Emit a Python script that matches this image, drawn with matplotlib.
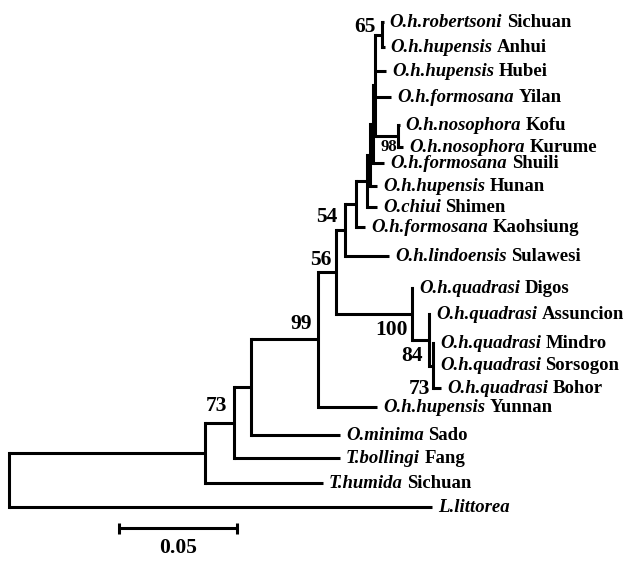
import matplotlib
matplotlib.use("Agg")
import matplotlib.pyplot as plt
from matplotlib.collections import LineCollection

# ---- data ----
taxa = ["O.h.robertsoni", "O.h.hupensis", "O.h.hupensis", "O.h.formosana",
        "O.h.nosophora", "O.h.nosophora", "O.h.formosana", "O.h.hupensis",
        "O.chiui", "O.h.formosana", "O.h.lindoensis", "O.h.quadrasi",
        "O.h.quadrasi", "O.h.quadrasi", "O.h.quadrasi", "O.h.quadrasi",
        "O.h.hupensis", "O.minima", "T.bollingi", "T.humida", "L.littorea"]
places = ["Sichuan", "Anhui", "Hubei", "Yilan", "Kofu", "Kurume", "Shuili",
          "Hunan", "Shimen", "Kaohsiung", "Sulawesi", "Digos", "Assuncion",
          "Mindro", "Sorsogon", "Bohor", "Yunnan", "Sado", "Fang", "Sichuan", ""]

# tips are referenced by their index in taxa, internal labels are bootstrap values
tree = ("(((((((((((((0:0.0006,1:0.0010)65:0.0030,2:0.0047,3:0.0068,"
        "(4:0.0006,5:0.0021)98:0.0098):0.0008,6:0.0047):0.0013,7:0.0030):0.0013,"
        "8:0.0042):0.0047,9:0.0038):0.0047,10:0.0187)54:0.0038,"
        "(11:0.0004,(12:0.0004,(13:0.0004,14:0.0004,15:0.0034)73:0.0017)84:0.0072)100:0.0322)56:0.0076,"
        "16:0.0250)99:0.0284,17:0.0377):0.0072,18:0.0449)73:0.0125,19:0.0502):0.0829,"
        "20:0.1793);")
scale_len = 0.05

# ---- layout ----
tip_rows = [22, 47, 71, 97, 125, 147, 163, 186, 207, 227, 256, 288, 314,
            343, 365, 388, 407, 435, 458, 483, 507]
px = 0.05 / 118.0        # tree units per pixel
root_px = 9
# bootstrap label placement: (dx, dy) in pixels from node, keyed by clade span
boot_off = {(0, 1): (-7, -8), (4, 5): (-1, 11), (0, 10): (-8, -13),
            (0, 15): (-5, -12), (0, 16): (-6, -15), (0, 18): (-7, -17),
            (11, 15): (-4, 16), (12, 15): (-6, 16), (13, 15): (-3, 23)}
small_boot = {(4, 5)}

serif = "Liberation Serif"
lw = 2.2


def parse(s):
    pos = 0

    def node():
        nonlocal pos
        n = {"kids": [], "name": "", "len": 0.0}
        if s[pos] == "(":
            pos += 1
            while True:
                n["kids"].append(node())
                if s[pos] == ",":
                    pos += 1
                    continue
                pos += 1
                break
        start = pos
        while s[pos] not in ",():;":
            pos += 1
        n["name"] = s[start:pos]
        if s[pos] == ":":
            pos += 1
            start = pos
            while s[pos] not in ",();":
                pos += 1
            n["len"] = float(s[start:pos])
        return n
    return node()


def layout(n, x0):
    n["x"] = x0 + n["len"]
    if not n["kids"]:
        i = int(n["name"])
        n["y"] = tip_rows[i]
        n["span"] = (i, i)
        return
    for k in n["kids"]:
        layout(k, n["x"])
    n["y"] = (n["kids"][0]["y"] + n["kids"][-1]["y"]) / 2.0
    n["span"] = (n["kids"][0]["span"][0], n["kids"][-1]["span"][1])


root = parse(tree)
layout(root, 0.0)

fig = plt.figure(figsize=(6.28, 5.61), dpi=100)
ax = fig.add_axes([0, 0, 1, 1])
ax.set_xlim(-root_px * px, (628 - root_px) * px)
ax.set_ylim(561, 0)
ax.axis("off")

hsegs, vsegs = [], []
tips, inner = [], []


def collect(n):
    if not n["kids"]:
        tips.append(n)
        return
    inner.append(n)
    vsegs.append([(n["x"], n["kids"][0]["y"]), (n["x"], n["kids"][-1]["y"])])
    for k in n["kids"]:
        hsegs.append([(n["x"], k["y"]), (k["x"], k["y"])])
        collect(k)


collect(root)
ax.add_collection(LineCollection(hsegs, colors="black", linewidths=lw, capstyle="butt"))
ax.add_collection(LineCollection(vsegs, colors="black", linewidths=lw, capstyle="projecting"))

fs_tip = 13.5
for t in tips:
    i = int(t["name"])
    t1 = ax.annotate(taxa[i], (t["x"], t["y"]), xytext=(6, 0), textcoords="offset pixels",
                     ha="left", va="center", fontsize=fs_tip, family=serif,
                     weight="bold", style="italic")
    if places[i]:
        ax.annotate(places[i], xy=(1, 0.5), xycoords=t1, xytext=(4.5, 0),
                    textcoords="offset pixels", ha="left", va="center",
                    fontsize=fs_tip, family=serif, weight="bold")

for n in inner:
    if n["name"] and n["span"] in boot_off:
        dx, dy = boot_off[n["span"]]
        fs = 12 if n["span"] in small_boot else 15.5
        ax.annotate(n["name"], (n["x"], n["y"]), xytext=(dx, -dy), textcoords="offset pixels",
                    ha="right", va="center", fontsize=fs, family=serif, weight="bold")

# scale bar
sb_x = (119 - root_px) * px
sb_y = 528
ax.plot([sb_x, sb_x + scale_len], [sb_y, sb_y], color="black", lw=lw, solid_capstyle="butt")
for xe in (sb_x, sb_x + scale_len):
    ax.plot([xe, xe], [sb_y - 5.5, sb_y + 5.5], color="black", lw=lw, solid_capstyle="butt")
ax.annotate("%.2f" % scale_len, (sb_x + scale_len / 2, sb_y), xytext=(0, -20),
            textcoords="offset pixels", ha="center", va="center",
            fontsize=15.5, family=serif, weight="bold")

fig.savefig("out.png", dpi=100, facecolor="white")
